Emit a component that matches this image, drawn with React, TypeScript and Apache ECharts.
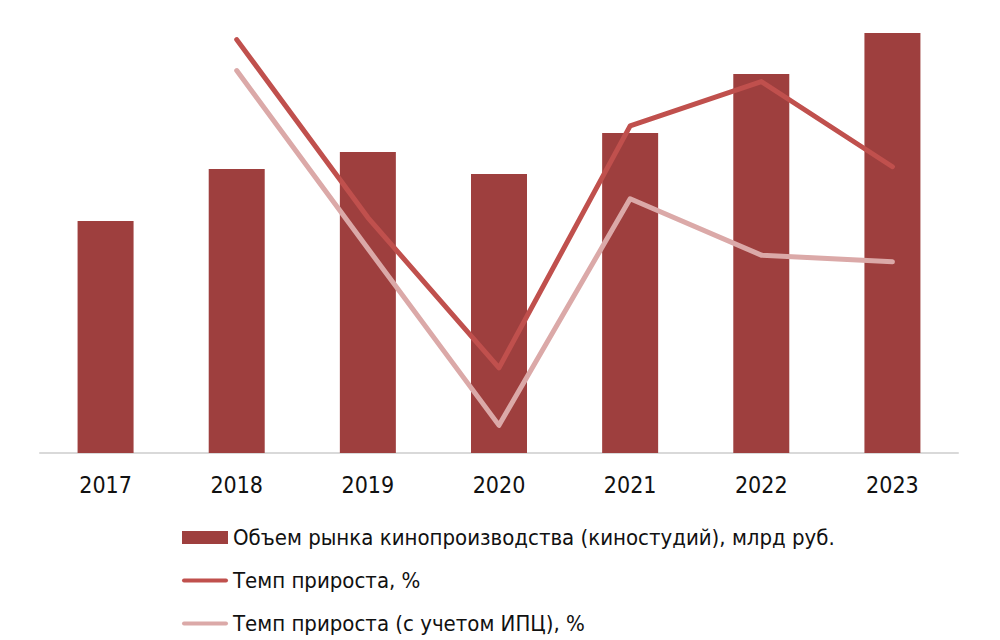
import React, { useEffect, useRef } from "react";
import * as echarts from "echarts";

const years = ["2017", "2018", "2019", "2020", "2021", "2022", "2023"];
const marketVolume = [23.2, 28.4, 30.1, 27.9, 32.0, 37.9, 42.0];
const growthRate = [null, 22.4, 6.3, -7.3, 14.6, 18.6, 10.9];
const growthRateCpi = [null, 19.6, 3.5, -12.5, 8.0, 2.9, 2.3];

const seriesNames = [
  "Объем рынка кинопроизводства (киностудий), млрд руб.",
  "Темп прироста, %",
  "Темп прироста (с учетом ИПЦ), %",
];

const FONT = "'DejaVu Sans Condensed', 'DejaVu Sans', sans-serif";
const LINE_ICON = "path://M2,0 L44,0 A2,2 0 0 1 44,4 L2,4 A2,2 0 0 1 2,0 Z";

export default function App() {
  const ref = useRef<HTMLDivElement>(null);
  useEffect(() => {
    if (!ref.current) return;
    const chart = echarts.init(ref.current, null, { renderer: "svg" });
    chart.setOption({
      animation: false,
      backgroundColor: "#ffffff",
      grid: { left: 40, right: 42, top: 33, bottom: 187 },
      xAxis: {
        type: "category",
        data: years,
        axisLine: { show: true, lineStyle: { color: "#d9d9d9", width: 2 } },
        axisTick: { show: false },
        axisLabel: {
          margin: 20,
          fontSize: 23,
          color: "#111111",
          fontFamily: FONT,
        },
      },
      yAxis: [
        { type: "value", min: 0, max: 42, show: false, splitLine: { show: false } },
        { type: "value", min: -15, max: 23, show: false, splitLine: { show: false } },
      ],
      legend: {
        orient: "vertical",
        left: 177,
        top: 521,
        itemWidth: 46,
        itemHeight: 13,
        itemGap: 20,
        textStyle: {
          fontSize: 22,
          lineHeight: 23,
          color: "#111111",
          fontFamily: FONT,
        },
        data: [
          { name: seriesNames[0], icon: "rect" },
          { name: seriesNames[1], icon: LINE_ICON },
          { name: seriesNames[2], icon: LINE_ICON },
        ],
      },
      series: [
        {
          name: seriesNames[0],
          type: "bar",
          data: marketVolume,
          barWidth: 56,
          yAxisIndex: 0,
          itemStyle: { color: "#9e3f3e" },
        },
        {
          name: seriesNames[1],
          type: "line",
          data: growthRate,
          yAxisIndex: 1,
          symbol: "none",
          lineStyle: { color: "#c0504d", width: 5, cap: "round", join: "round" },
          itemStyle: { color: "#c0504d" },
          z: 3,
        },
        {
          name: seriesNames[2],
          type: "line",
          data: growthRateCpi,
          yAxisIndex: 1,
          symbol: "none",
          lineStyle: { color: "#dba9a8", width: 5, cap: "round", join: "round" },
          itemStyle: { color: "#dba9a8" },
          z: 3,
        },
      ],
    });
    return () => chart.dispose();
  }, []);
  return (
    <div
      ref={ref}
      style={{ width: 1000, height: 640, position: "fixed", left: 0, top: 0 }}
    />
  );
}
